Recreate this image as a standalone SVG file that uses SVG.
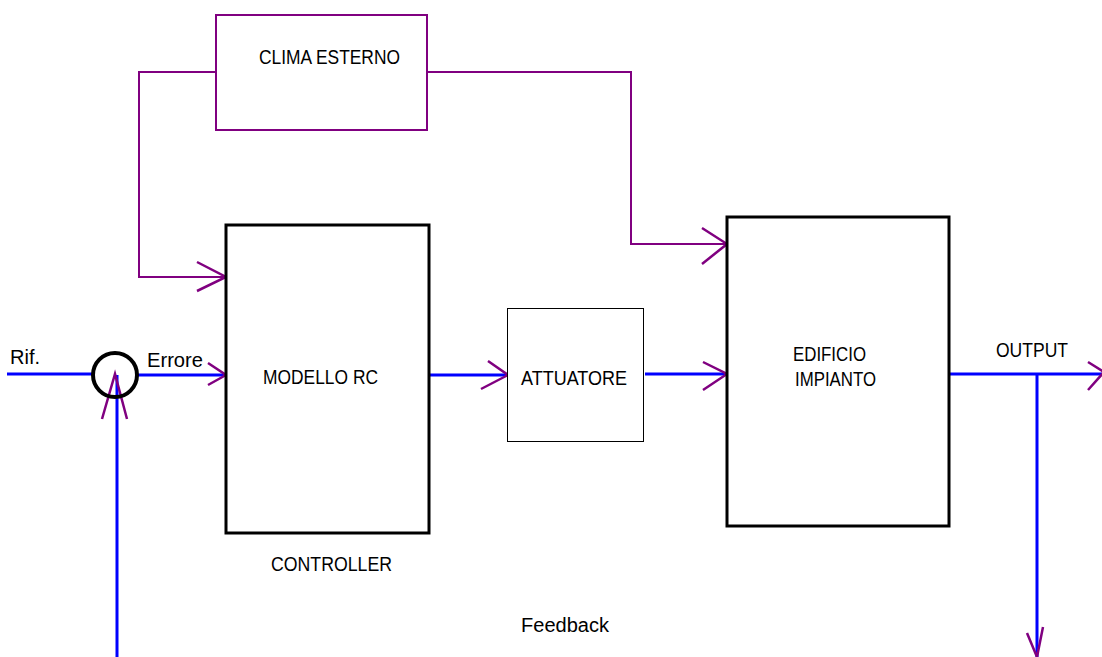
<svg xmlns="http://www.w3.org/2000/svg" width="1102" height="657" viewBox="0 0 1102 657">
<style>
.t{font-family:"Liberation Sans",Arial,sans-serif;font-size:20px;fill:#000}
.b{stroke:#0000ff;stroke-width:3;fill:none}
.p{stroke:#800080;stroke-width:2;fill:none}
.ah{stroke:#800080;stroke-width:2.5;fill:none}
.box{fill:#fff;stroke:#000}
</style>
<rect width="1102" height="657" fill="#fff"/>
<g id="connectors">
<polyline class="p" points="216,72 139,72 139,277 226,277"/>
<polyline class="ah" points="197,262 226,277 197,291"/>
<polyline class="p" points="427,72 631,72 631,244 727,244"/>
<polyline class="ah" points="702,228 727,244 702,264"/>
<line class="b" x1="7" y1="374" x2="93" y2="374"/>
<line class="b" x1="138" y1="375" x2="226" y2="375"/>
<polyline class="ah" points="208,363 226,375 208,385"/>
<line class="b" x1="117" y1="657" x2="117" y2="375"/>
<polyline class="ah" points="102,419 115,374 127,419"/>
<line class="b" x1="429" y1="375" x2="508" y2="375"/>
<polyline class="ah" points="488,361 508,375 481,389"/>
<line class="b" x1="645" y1="374" x2="727" y2="374"/>
<polyline class="ah" points="703,362 727,374 703,390"/>
<line class="b" x1="949" y1="374" x2="1102" y2="374"/>
<polyline class="ah" points="1088,362 1104,372 1088,390"/>
<line class="b" x1="1037" y1="374" x2="1037" y2="657"/>
<polyline class="ah" points="1027,633 1037,657 1043,627"/>
</g>
<g id="clima">
<rect x="216" y="15" width="211" height="115" fill="#fff" stroke="#800080" stroke-width="2"/>
<text class="t" x="259" y="64" textLength="141" lengthAdjust="spacingAndGlyphs">CLIMA ESTERNO</text>
</g>
<g id="controller">
<rect class="box" x="226" y="225" width="203" height="308" stroke-width="3"/>
<text class="t" x="263" y="384" textLength="115" lengthAdjust="spacingAndGlyphs">MODELLO RC</text>
<text class="t" x="271" y="571" textLength="121" lengthAdjust="spacingAndGlyphs">CONTROLLER</text>
</g>
<g id="sum">
<circle cx="115" cy="375" r="22" fill="none" stroke="#000" stroke-width="4"/>
<text class="t" x="10" y="364" textLength="30" lengthAdjust="spacingAndGlyphs">Rif.</text>
<text class="t" x="147" y="367" textLength="56" lengthAdjust="spacingAndGlyphs">Errore</text>
</g>
<g id="attuatore">
<rect class="box" x="507.5" y="308.5" width="136" height="133" stroke-width="1"/>
<text class="t" x="521" y="385" textLength="106" lengthAdjust="spacingAndGlyphs">ATTUATORE</text>
</g>
<g id="edificio">
<rect class="box" x="727" y="217" width="222" height="309" stroke-width="3"/>
<text class="t" x="793" y="361" textLength="73" lengthAdjust="spacingAndGlyphs">EDIFICIO</text>
<text class="t" x="795" y="386" textLength="81" lengthAdjust="spacingAndGlyphs">IMPIANTO</text>
</g>
<g id="labels">
<text class="t" x="996" y="357" textLength="72" lengthAdjust="spacingAndGlyphs">OUTPUT</text>
<text class="t" x="521" y="632" textLength="88" lengthAdjust="spacingAndGlyphs">Feedback</text>
</g>
</svg>
